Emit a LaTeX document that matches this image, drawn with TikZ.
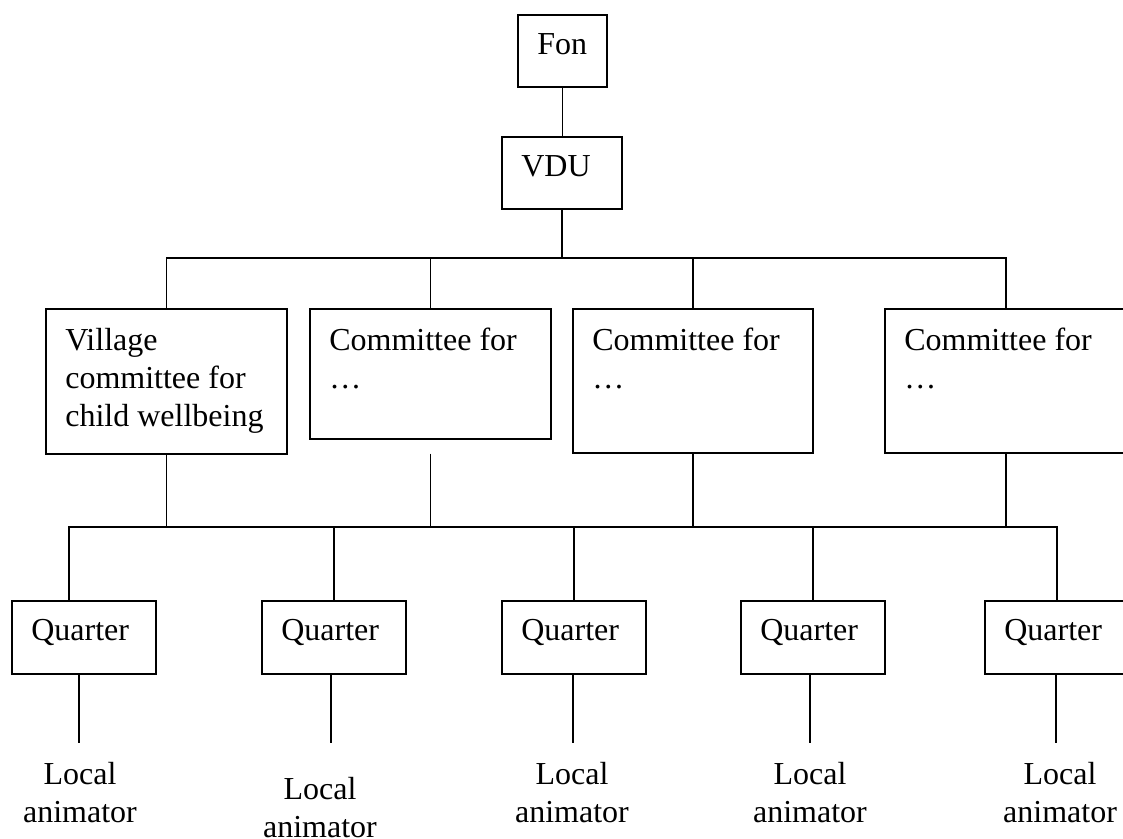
\documentclass[tikz,border=0pt]{standalone}
\usepackage{fontspec}
\setmainfont{Liberation Serif}
\newcommand*{\boxtxt}[3]{\parbox[t][#2][t]{#1}{\raggedright #3}}

\begin{document}
\begin{tikzpicture}[x=0.5pt,y=-0.5pt,line width=0.8pt,
      every node/.style={font=\fontsize{16}{19}\selectfont},
      orgbox/.style={draw,anchor=north west,inner xsep=9.75pt,inner ysep=9.5pt},
      animator/.style={anchor=north,align=center,inner sep=0pt}]
  \useasboundingbox (0,0) rectangle (1123,839);
  % top of the chart
  \node[orgbox] (fon) at (517,14)  {\boxtxt{25pt}{17pt}{Fon}};
  \node[orgbox] (vdu) at (501,136) {\boxtxt{40.5pt}{17pt}{VDU}};
  % committees
  \node[orgbox] (c_1) at (45,308)  {\boxtxt{101pt}{53.5pt}{Village\\committee for\\child wellbeing}};
  \node[orgbox] (c_2) at (309,308) {\boxtxt{101pt}{46pt}{Committee for\\…}};
  \node[orgbox] (c_3) at (572,308) {\boxtxt{100.5pt}{53pt}{Committee for\\…}};
  \node[orgbox] (c_4) at (884,308) {\boxtxt{101.5pt}{53pt}{Committee for\\…}};
  % quarters
  \foreach \i/\x in {1/11,2/261,3/501,4/740,5/984}
    \node[orgbox] (q_\i) at (\x,600) {\boxtxt{52.5pt}{17.5pt}{Quarter}};
  % local animators
  \node[animator] (a_1) at (80,761)   {Local\\animator};
  \node[animator] (a_2) at (320,776)  {Local\\animator};
  \node[animator] (a_3) at (572,761)  {Local\\animator};
  \node[animator] (a_4) at (810,761)  {Local\\animator};
  \node[animator] (a_5) at (1060,761) {Local\\animator};

  \coordinate (bus_1) at (0,258);
  \coordinate (bus_2) at (0,527);
  \coordinate (bus_left) at (69,527);
  \coordinate (gap_2) at ([yshift=-7pt]c_2.south);

  \draw (fon.south) -- (fon.south |- vdu.north);
  \draw (c_1.north) -- (c_1.north |- bus_1) -- (c_4.north |- bus_1) -- (c_4.north);
  \foreach \n in {vdu.south,c_2.north,c_3.north}
    \draw (\n) -- (\n |- bus_1);
  \foreach \n in {c_1.south,gap_2,c_3.south,c_4.south}
    \draw (\n) -- (\n |- bus_2);
  \draw (bus_left |- q_1.north) -- (bus_left) -- (q_5.north |- bus_2) -- (q_5.north);
  \foreach \i in {2,3,4}
    \draw (q_\i.north) -- (q_\i.north |- bus_2);
  \foreach \i/\x in {1/79,2/331,3/573,4/810,5/1056} {
    \coordinate (e_\i) at (\x,743);
    \draw (e_\i |- q_\i.south) -- (e_\i);
  }
\end{tikzpicture}
\end{document}
